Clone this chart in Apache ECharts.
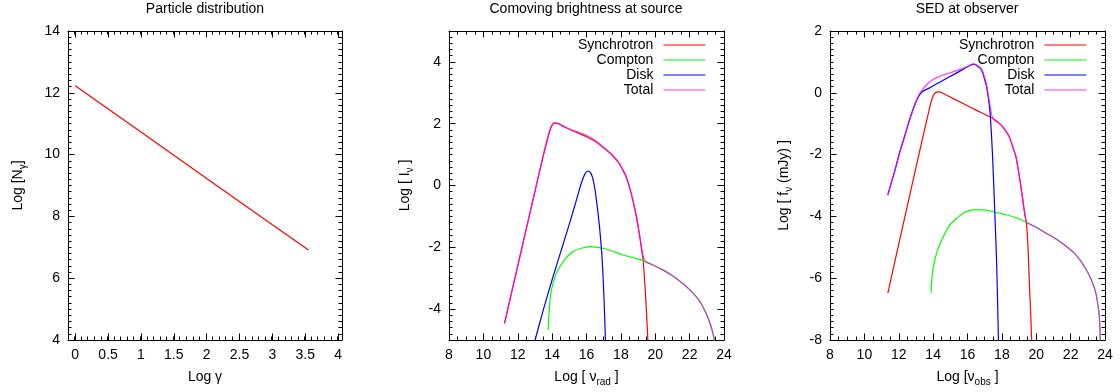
<!DOCTYPE html>
<html>
<head>
<meta charset="utf-8">
<script src="https://cdn.jsdelivr.net/npm/echarts@6/dist/echarts.min.js"></script>
<style>
  html, body { margin: 0; padding: 0; background: #fff; }
  #chart { width: 1120px; height: 392px; }
</style>
</head>
<body>
<div id="chart"></div>
<script>
// --- panel 1: particle distribution ---
const gammaLog = [0, 1, 2, 3, 3.55]
const nGamma = [12.23, 10.73, 9.23, 7.73, 6.91]

// --- panel 2: comoving brightness at source ---
const srcSynX = [11.23, 12.0, 13.0, 13.5, 13.8, 13.95, 14.1, 14.25, 14.6, 15.0, 15.5, 16.0, 16.5, 17.0, 17.5, 17.9, 18.1, 18.3, 18.5, 18.7, 18.9, 19.07, 19.2, 19.3, 19.45, 19.57, 19.6]
const srcSynY = [-4.46, -2.6, -0.19, 1.0, 1.65, 1.9, 2.02, 2.02, 1.93, 1.82, 1.7, 1.58, 1.43, 1.22, 0.98, 0.72, 0.52, 0.29, -0.05, -0.48, -1.0, -1.55, -2.05, -2.45, -3.7, -5.0, -5.5]
const srcCompX = [13.77, 13.85, 13.96, 14.2, 14.45, 14.8, 15.22, 15.7, 16.2, 16.96, 17.5, 18.12, 18.8, 19.3, 19.9, 20.44, 21.0, 21.6, 22.0, 22.38, 22.7, 22.96, 23.15, 23.31, 23.42, 23.45]
const srcCompY = [-4.68, -3.9, -3.38, -2.9, -2.63, -2.35, -2.14, -2.03, -1.98, -2.03, -2.12, -2.25, -2.35, -2.43, -2.58, -2.73, -2.92, -3.17, -3.37, -3.6, -3.85, -4.14, -4.4, -4.68, -4.95, -5.2]
const srcDiskX = [13.01, 13.5, 14.0, 14.5, 15.0, 15.4, 15.7, 15.9, 16.07, 16.25, 16.4, 16.55, 16.75, 16.9, 17.0, 17.06, 17.1, 17.12]
const srcDiskY = [-5.0, -4.0, -3.05, -2.15, -1.25, -0.5, 0.08, 0.36, 0.47, 0.4, 0.15, -0.35, -1.3, -2.3, -3.4, -4.3, -5.0, -5.4]
const srcTotX = [11.23, 12.0, 13.0, 13.5, 13.8, 13.95, 14.1, 14.25, 14.6, 15.0, 15.5, 16.0, 16.5, 17.0, 17.5, 17.9, 18.1, 18.3, 18.5, 18.7, 18.9, 19.07, 19.2, 19.3, 19.45, 19.9, 20.44, 21.0, 21.6, 22.0, 22.38, 22.7, 22.96, 23.15, 23.31, 23.42, 23.45]
const srcTotY = [-4.46, -2.6, -0.19, 1.0, 1.65, 1.9, 2.02, 2.02, 1.93, 1.83, 1.73, 1.62, 1.46, 1.23, 0.98, 0.72, 0.52, 0.29, -0.05, -0.48, -1.0, -1.55, -2.0, -2.3, -2.47, -2.58, -2.73, -2.92, -3.17, -3.37, -3.6, -3.85, -4.14, -4.4, -4.68, -4.95, -5.2]

// --- panel 3: SED at observer ---
const obsSynX = [11.36, 12.0, 13.0, 13.5, 13.75, 13.92, 14.08, 14.28, 14.5, 15.14, 16.0, 16.5, 17.27, 17.6, 17.85, 18.05, 18.43, 18.66, 18.82, 19.08, 19.34, 19.44, 19.52, 19.6, 19.68, 19.73, 19.76]
const obsSynY = [-6.49, -4.9, -2.42, -1.2, -0.6, -0.22, -0.03, 0.03, 0.0, -0.18, -0.42, -0.56, -0.77, -0.88, -0.99, -1.1, -1.42, -1.8, -2.07, -2.93, -3.95, -4.3, -5.0, -6.17, -7.2, -8.0, -8.5]
const obsCompX = [13.88, 13.93, 14.01, 14.25, 14.59, 14.94, 15.37, 15.8, 16.34, 16.9, 17.5, 18.1, 18.66, 19.1, 19.53, 20.0, 20.6, 21.2, 21.77, 22.2, 22.54, 22.85, 23.12, 23.32, 23.47, 23.6, 23.67, 23.71, 23.73]
const obsCompY = [-6.47, -6.0, -5.63, -5.1, -4.66, -4.3, -4.06, -3.88, -3.79, -3.79, -3.85, -3.93, -4.01, -4.1, -4.22, -4.35, -4.55, -4.75, -4.98, -5.18, -5.41, -5.67, -5.95, -6.22, -6.49, -6.9, -7.25, -7.7, -8.2]
const obsDiskX = [11.36, 11.78, 12.07, 12.4, 12.7, 13.0, 13.2, 13.4, 13.8, 14.3, 14.8, 15.3, 15.8, 16.2, 16.35, 16.55, 16.82, 17.0, 17.11, 17.3, 17.45, 17.6, 17.7, 17.8, 17.82]
const obsDiskY = [-3.31, -2.5, -1.9, -1.3, -0.75, -0.3, -0.08, 0.05, 0.16, 0.32, 0.47, 0.62, 0.78, 0.9, 0.93, 0.88, 0.74, 0.42, 0.2, -0.56, -1.96, -4.05, -5.6, -8.0, -8.5]
const obsTotX = [11.36, 11.78, 12.07, 12.4, 12.7, 13.0, 13.2, 13.4, 13.7, 14.0, 14.2, 14.5, 15.0, 15.5, 16.0, 16.2, 16.35, 16.55, 16.82, 17.0, 17.11, 17.3, 17.45, 17.6, 17.85, 18.05, 18.43, 18.66, 18.82, 19.08, 19.34, 19.48, 20.0, 20.6, 21.2, 21.77, 22.2, 22.54, 22.85, 23.12, 23.32, 23.47, 23.6, 23.67, 23.71, 23.73]
const obsTotY = [-3.31, -2.5, -1.9, -1.3, -0.75, -0.28, -0.04, 0.12, 0.3, 0.43, 0.49, 0.56, 0.65, 0.74, 0.85, 0.91, 0.94, 0.89, 0.76, 0.48, 0.25, -0.38, -0.8, -0.9, -0.99, -1.1, -1.42, -1.8, -2.07, -2.93, -3.95, -4.2, -4.35, -4.55, -4.75, -4.98, -5.18, -5.41, -5.67, -5.95, -6.22, -6.49, -6.9, -7.25, -7.7, -8.2]

// tick labels
const gammaTicks = [0, 0.5, 1, 1.5, 2, 2.5, 3, 3.5, 4]
const nTicks = [4, 6, 8, 10, 12, 14]
const nuTicks = [8, 10, 12, 14, 16, 18, 20, 22, 24]
const brightTicks = [-4, -2, 0, 2, 4]
const sedTicks = [-8, -6, -4, -2, 0, 2]

const legendNames = ['Synchrotron', 'Compton', 'Disk', 'Total']
const colors = { Synchrotron: '#ff0000', Compton: '#00ff00', Disk: '#0000ff', Total: '#ff00ff' }

const font = '"Liberation Sans", Arial, Helvetica, sans-serif'
const fontSize = 14
const ink = { color: '#000', width: 1 }

const zip = (xs, ys) => xs.map((x, i) => [x, ys[i]])
const steps = (a, b, s) => {
  const out = []
  for (let v = a; v <= b + 1e-9; v += s) out.push(+v.toFixed(3))
  return out
}

const nameStyle = {
  fontFamily: font, fontSize, color: '#000', lineHeight: 19,
  rich: { sub: { fontFamily: font, fontSize: 10, color: '#000', lineHeight: 8, verticalAlign: 'bottom' } },
}

// labelled major axis, minor axis, mirrored major, mirrored minor
function axisSet(grid, near, far, min, max, major, minorStep, name, nameGap) {
  const base = { type: 'value', gridIndex: grid, min, max, splitLine: { show: false } }
  const tick = (len, vals) => ({ show: true, inside: true, length: len, customValues: vals, lineStyle: ink })
  const minor = steps(min, max, minorStep)
  return [
    {
      ...base, position: near, name, nameLocation: 'middle', nameGap, nameTextStyle: nameStyle,
      axisLine: { show: true, onZero: false, lineStyle: ink },
      axisTick: tick(6.5, major),
      axisLabel: { show: true, customValues: major, margin: 8, color: '#000', fontSize, fontFamily: font },
    },
    { ...base, position: near, axisLine: { show: false, onZero: false }, axisTick: tick(3.5, minor), axisLabel: { show: false } },
    { ...base, position: far, axisLine: { show: true, onZero: false, lineStyle: ink }, axisTick: tick(6.5, major), axisLabel: { show: false } },
    { ...base, position: far, axisLine: { show: false, onZero: false }, axisTick: tick(3.5, minor), axisLabel: { show: false } },
  ]
}

const grids = [
  { left: 68, top: 31, width: 274, height: 309 },
  { left: 449, top: 31, width: 275, height: 309 },
  { left: 830, top: 31, width: 275, height: 309 },
]

const xAxes = [
  ...axisSet(0, 'bottom', 'top', -0.11, 4.06, gammaTicks, 0.1, 'Log γ', 28),
  ...axisSet(1, 'bottom', 'top', 8, 24, nuTicks, 0.5, 'Log [ ν{sub|rad} ]', 28),
  ...axisSet(2, 'bottom', 'top', 8, 24, nuTicks, 0.5, 'Log [ν{sub|obs} ]', 28),
]
const yAxes = [
  ...axisSet(0, 'left', 'right', 4, 14, nTicks, 0.2, 'Log [N{sub|γ}]', 40),
  ...axisSet(1, 'left', 'right', -5, 5, brightTicks, 0.2, 'Log [ I{sub|ν} ]', 34),
  ...axisSet(2, 'left', 'right', -8, 2, sedTicks, 0.2, 'Log [ f{sub|ν} (mJy) ]', 36),
]

function line(name, grid, xs, ys, opacity) {
  return {
    name, type: 'line', xAxisIndex: grid * 4, yAxisIndex: grid * 4,
    data: zip(xs, ys), symbol: 'none', showSymbol: false,
    smooth: 0.3, clip: true,
    lineStyle: { color: colors[name] || '#ff0000', width: 1.2, opacity: opacity || 1 },
    itemStyle: { color: colors[name] || '#ff0000' },
  }
}

// invisible copy of the panel's data on each extra tick axis, so they lay out like the main one
function anchors(grid, xs, ys) {
  return [1, 2, 3].map((k) => ({
    name: '_ticks', type: 'line', xAxisIndex: grid * 4 + k, yAxisIndex: grid * 4 + k,
    data: zip(xs, ys), symbol: 'none', silent: true, z: 0,
    lineStyle: { opacity: 0 },
  }))
}

const series = [
  { ...line('N', 0, gammaLog, nGamma), smooth: false },
  line('Synchrotron', 1, srcSynX, srcSynY),
  line('Compton', 1, srcCompX, srcCompY),
  line('Disk', 1, srcDiskX, srcDiskY),
  line('Total', 1, srcTotX, srcTotY, 0.8),
  line('Synchrotron', 2, obsSynX, obsSynY),
  line('Compton', 2, obsCompX, obsCompY),
  line('Disk', 2, obsDiskX, obsDiskY),
  line('Total', 2, obsTotX, obsTotY, 0.8),
  ...anchors(0, gammaLog, nGamma),
  ...anchors(1, srcTotX, srcTotY),
  ...anchors(2, obsTotX, obsTotY),
]

const legendBase = {
  data: legendNames, orient: 'vertical', align: 'right', top: 38, padding: 0,
  itemWidth: 42, itemHeight: 14, itemGap: 1, selectedMode: false,
  itemStyle: { opacity: 0 },
  lineStyle: { width: 1.2 },
  textStyle: { fontFamily: font, fontSize, color: '#000', padding: [0, 5, 0, 0] },
}

const titleStyle = { fontFamily: font, fontSize, fontWeight: 'normal', color: '#000' }

const chart = echarts.init(document.getElementById('chart'), null, { renderer: 'canvas' })
chart.setOption({
  animation: false,
  backgroundColor: '#fff',
  title: [
    { text: 'Particle distribution', left: 205, top: 2, padding: 0, textAlign: 'center', textStyle: titleStyle },
    { text: 'Comoving brightness at source', left: 586, top: 2, padding: 0, textAlign: 'center', textStyle: titleStyle },
    { text: 'SED at observer', left: 967, top: 2, padding: 0, textAlign: 'center', textStyle: titleStyle },
  ],
  legend: [
    { ...legendBase, right: 414 },
    { ...legendBase, right: 33 },
  ],
  grid: grids,
  xAxis: xAxes,
  yAxis: yAxes,
  series,
})
</script>
</body>
</html>
